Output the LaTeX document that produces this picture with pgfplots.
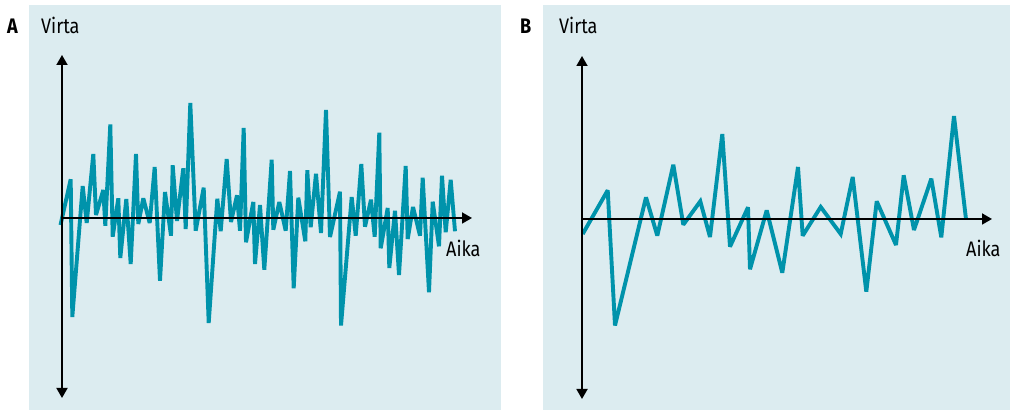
\documentclass[border=0pt]{standalone}
\usepackage{pgfplots}
\pgfplotsset{compat=1.18}
\usepackage{fontspec}
\setmainfont{Fira Sans}[FakeStretch=0.86]
\usetikzlibrary{arrows.meta}
\definecolor{bgc}{RGB}{220,236,240}
\definecolor{linec}{RGB}{0,147,171}
\begin{document}
\begin{tikzpicture}[x=1pt,y=1pt]
\useasboundingbox (0,0) rectangle (1010,411);
\fill[bgc] (29,1) rectangle (501,406);
\fill[bgc] (543,1) rectangle (1010,406);
\pgfplotsset{panel/.style={anchor=south west, scale only axis, width=410pt, height=343pt,
  xmin=0, xmax=410, ymin=-180, ymax=163, axis lines=none, clip=false}}
\tikzset{ax/.style={black, line width=1.8pt, arrows={-Triangle[width=11pt,length=10pt]}},
  ax2/.style={black, line width=1.8pt, arrows={Triangle[width=11pt,length=10pt]-Triangle[width=11pt,length=10pt]}}}
% Panel A
\begin{axis}[panel, at={(62pt,13pt)}]
\addplot[linec, line width=3.9pt, line join=miter, miter limit=2.5] coordinates {
(-1.5,-7) (8.7,38.7) (10.3,-99) (20.7,32) (24.7,-5) (31.3,64) (34,3) (41.3,28)
(43.3,-7.7) (48.3,93.5) (50.7,-18.7) (56.3,19.7) (58.3,-40) (64.3,19) (68.7,-46)
(74,64) (76.3,-6) (81.3,19.7) (87.7,-5) (92.7,51) (98,-62.7) (103,26) (109,-17.7)
(110.7,52.7) (115,-3) (121.3,49.7) (123.7,-11) (128.3,115) (133.7,-12.7)
(141.7,30.3) (146.7,-105) (155.3,19.3) (158.7,-13.3) (164.7,59) (169,-4) (175,22.7)
(178,-12.7) (181.7,90) (184,-24.3) (191.3,16) (193,-46) (198,13) (202.3,-51.7)
(209.7,58.3) (211.3,-11.7) (217.3,16) (223.7,-12.7) (228,47) (231.7,-70.3)
(236.3,20.3) (243.3,-23.3) (245.3,47.7) (248.7,-9.3) (254,44.3) (259,-15) (264,108)
(268,-19) (278,26.3) (279,-107.5) (289.7,21) (293.7,-17.7) (299.3,54) (303,-8.7)
(309,18.3) (312.7,-18.7) (317.3,85.3) (318.7,-30.3) (325.7,10) (327.3,-50) (333,7.3)
(337,-57) (343.7,52) (345.7,-21) (351,11) (358,-17.7) (360.7,40.3) (367,-74.3)
(370.7,16.3) (377,-28.3) (380,42.3) (383.7,-14.3) (388.7,38.3) (393,-13.3)
};
\draw[ax] (axis cs:0,0) -- (axis cs:410,0);
\draw[ax2] (axis cs:0,-180) -- (axis cs:0,163);
\end{axis}
% Panel B
\begin{axis}[panel, at={(582pt,12pt)}]
\addplot[linec, line width=3.9pt, line join=miter, miter limit=2.5] coordinates {
(0.7,-15) (25.7,28.7) (33,-106.5) (64,21.7) (75.3,-16.7) (91.3,54.3) (101.3,-5.7)
(118.3,17.7) (128,-18) (140.3,85) (148,-27.7) (166,11.7) (168,-50.3) (184.7,8.7)
(200.3,-53.7) (216,52) (220.7,-16.7) (238.7,12) (258.7,-15) (270.7,42) (284.3,-72.7)
(294.7,17.7) (314,-26) (321.7,43.7) (332,-11) (349.3,40.3) (359.3,-18.3) (372,103)
(384,-0.3)
};
\draw[ax] (axis cs:0,0) -- (axis cs:410,0);
\draw[ax2] (axis cs:0,-180) -- (axis cs:0,163);
\end{axis}
\fontsize{21pt}{24pt}\selectfont
\node[anchor=base west, inner sep=0] at (7,377) {\bfseries A};
\node[anchor=base west, inner sep=0] at (41,377) {Virta};
\node[anchor=base west, inner sep=0] at (520,377) {\bfseries B};
\node[anchor=base west, inner sep=0] at (559,377) {Virta};
\node[anchor=base west, inner sep=0] at (446,154) {Aika};
\node[anchor=base west, inner sep=0] at (966,154) {Aika};
\end{tikzpicture}
\end{document}
